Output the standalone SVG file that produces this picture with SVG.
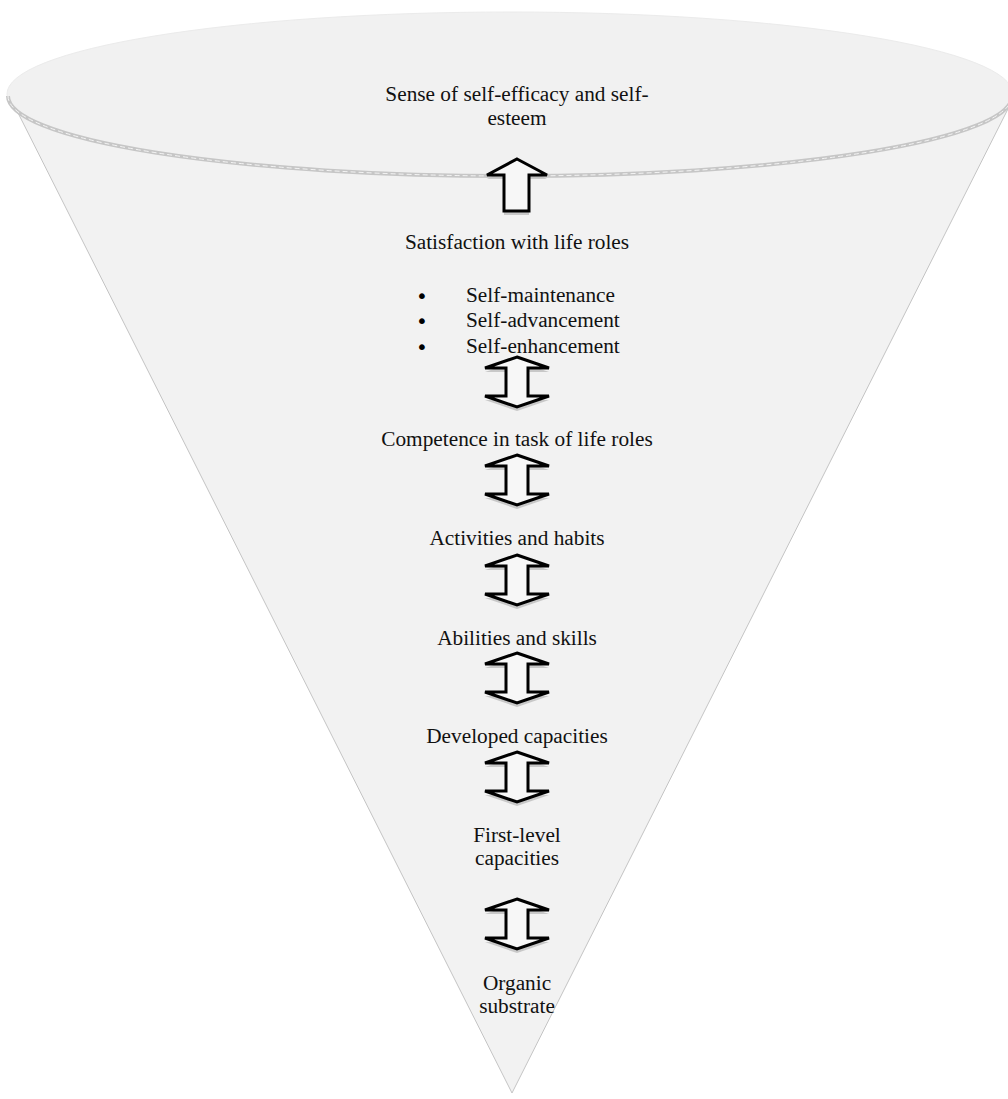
<svg xmlns="http://www.w3.org/2000/svg" width="1008" height="1099" viewBox="0 0 1008 1099">
<style>
  .t { font-family: "Liberation Serif", "Times New Roman", serif; font-size: 21.3px; fill: #111; }
  .c { text-anchor: middle; }
  .b { font-family: "DejaVu Sans", sans-serif; font-size: 20px; text-anchor: middle; fill: #000; }
  .arrow { fill: #f7f7f7; stroke: #000; stroke-width: 3; stroke-linejoin: miter; }
  .shadow { fill: #bdbdbd; stroke: none; opacity: 0.8; }
</style>
<defs>
  <path id="dbl" d="M 0,0 L 32,11 L 11,11 L 11,39 L 32,39 L 0,50 L -32,39 L -11,39 L -11,11 L -32,11 Z"/>
  <path id="up" d="M 0,0 L 30,16 L 12,16 L 12,52 L -13,52 L -13,16 L -30,16 Z"/>
</defs>
<rect width="1008" height="1099" fill="#ffffff"/>
<g id="funnel">
  <polygon points="10,97 1014,97 512,1093" fill="#f2f2f2" stroke="#c4c4c4" stroke-width="1"/>
  <ellipse cx="510" cy="94" rx="503" ry="82" fill="#f1f1f1" stroke="#ebebeb" stroke-width="1"/>
  <path d="M 8,96 A 502 80 0 0 0 1012,96" fill="none" stroke="#c6c6c6" stroke-width="4"/>
  <path d="M 8,96 A 502 80 0 0 0 1012,96" fill="none" stroke="#f4f4f4" stroke-width="1" stroke-dasharray="5 3"/>
</g>
<g id="connectors">
  <g id="arrow-up" transform="translate(517,159)">
    <use href="#up" class="shadow" transform="translate(0,4)"/>
    <use href="#up" class="arrow"/>
  </g>
  <g transform="translate(517,357)"><use href="#dbl" class="shadow" transform="translate(0,4)"/><use href="#dbl" class="arrow"/></g>
  <g transform="translate(517,455)"><use href="#dbl" class="shadow" transform="translate(0,4)"/><use href="#dbl" class="arrow"/></g>
  <g transform="translate(517,555)"><use href="#dbl" class="shadow" transform="translate(0,4)"/><use href="#dbl" class="arrow"/></g>
  <g transform="translate(517,653)"><use href="#dbl" class="shadow" transform="translate(0,4)"/><use href="#dbl" class="arrow"/></g>
  <g transform="translate(517,752)"><use href="#dbl" class="shadow" transform="translate(0,4)"/><use href="#dbl" class="arrow"/></g>
  <g transform="translate(517,899)"><use href="#dbl" class="shadow" transform="translate(0,4)"/><use href="#dbl" class="arrow"/></g>
</g>
<g id="node-self-efficacy">
  <text class="t c" x="517" y="101">Sense of self-efficacy and self-</text>
  <text class="t c" x="517" y="125">esteem</text>
</g>
<g id="node-satisfaction">
  <text class="t c" x="517" y="249">Satisfaction with life roles</text>
  <text class="b" x="422" y="303">•</text>
  <text class="t" x="466" y="302">Self-maintenance</text>
  <text class="b" x="422" y="328">•</text>
  <text class="t" x="466" y="327">Self-advancement</text>
  <text class="b" x="422" y="354">•</text>
  <text class="t" x="466" y="353">Self-enhancement</text>
</g>
<g id="node-competence">
  <text class="t c" x="517" y="446">Competence in task of life roles</text>
</g>
<g id="node-activities">
  <text class="t c" x="517" y="545">Activities and habits</text>
</g>
<g id="node-abilities">
  <text class="t c" x="517" y="645">Abilities and skills</text>
</g>
<g id="node-developed">
  <text class="t c" x="517" y="743">Developed capacities</text>
</g>
<g id="node-first-level">
  <text class="t c" x="517" y="842">First-level</text>
  <text class="t c" x="517" y="865">capacities</text>
</g>
<g id="node-organic">
  <text class="t c" x="517" y="990">Organic</text>
  <text class="t c" x="517" y="1013">substrate</text>
</g>
</svg>
